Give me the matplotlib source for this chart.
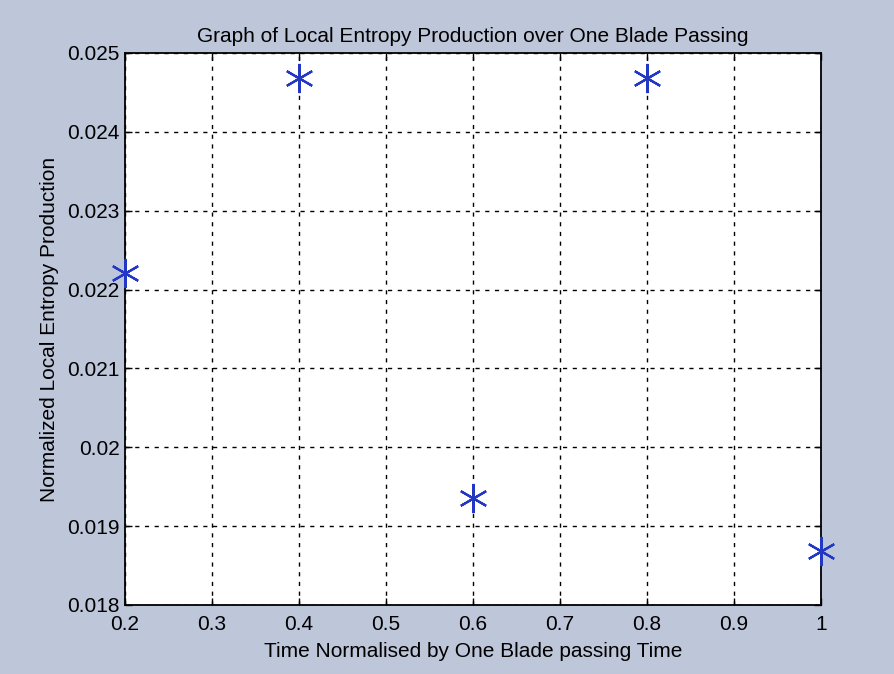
import matplotlib
matplotlib.use("Agg")
import matplotlib.pyplot as plt

# Normalised time over one blade passing and local entropy production
time_norm = [0.2, 0.4, 0.6, 0.8, 1.0]
entropy_prod = [0.02221, 0.02468, 0.01936, 0.02468, 0.01869]

x_ticks = [0.2, 0.3, 0.4, 0.5, 0.6, 0.7, 0.8, 0.9, 1.0]
x_tick_labels = ["0.2", "0.3", "0.4", "0.5", "0.6", "0.7", "0.8", "0.9", "1"]
y_ticks = [0.018, 0.019, 0.02, 0.021, 0.022, 0.023, 0.024, 0.025]
y_tick_labels = ["0.018", "0.019", "0.02", "0.021", "0.022", "0.023", "0.024", "0.025"]

plt.rcParams["font.family"] = ["Liberation Sans", "DejaVu Sans"]

fig = plt.figure(figsize=(8.94, 6.74), dpi=100)
fig.patch.set_facecolor("#bec6d9")
ax = fig.add_axes([0.1398, 0.1024, 0.9183 - 0.1398, 0.9214 - 0.1024])
ax.set_facecolor("white")

ax.plot(time_norm, entropy_prod, linestyle="none", marker=(6, 2, 0),
        markersize=21, markeredgewidth=1.6, color="#2238c4", clip_on=False, zorder=5)

ax.set_xlim(0.2, 1.0)
ax.set_ylim(0.018, 0.025)
ax.set_xticks(x_ticks)
ax.set_xticklabels(x_tick_labels)
ax.set_yticks(y_ticks)
ax.set_yticklabels(y_tick_labels)

ax.grid(True, color="black", linestyle=(0, (3, 4)), linewidth=1.0)
ax.tick_params(direction="in", length=5, width=1, labelsize=15, colors="black",
               top=True, right=True)
ax.tick_params(axis="x", pad=7)
ax.tick_params(axis="y", pad=4)
for s in ax.spines.values():
    s.set_linewidth(1.3)
    s.set_color("black")

ax.set_title("Graph of Local Entropy Production over One Blade Passing", fontsize=15, pad=8)
ax.set_xlabel("Time Normalised by One Blade passing Time", fontsize=15, labelpad=6)
ax.set_ylabel("Normalized Local Entropy Production", fontsize=15, labelpad=6)

fig.savefig("out.png", dpi=100, facecolor=fig.get_facecolor())
